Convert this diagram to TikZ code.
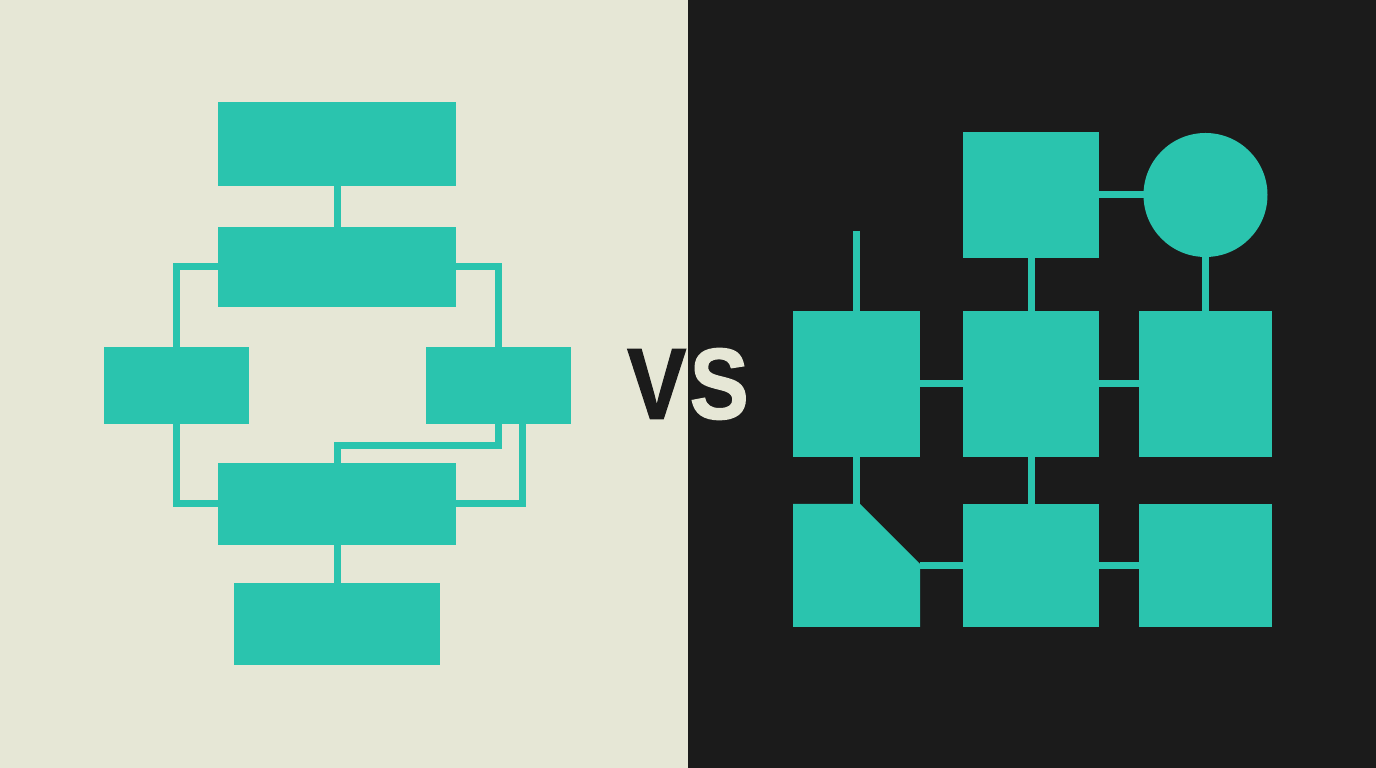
\documentclass[tikz,border=0pt]{standalone}
\usepackage{fontspec}
\newfontfamily\vsfont{Liberation Sans}[BoldFeatures={FakeBold=1.5}]
\definecolor{paper}{RGB}{230,231,214}
\definecolor{ink}{RGB}{27,27,27}
\definecolor{mint}{RGB}{42,196,174}
\tikzset{
  box/.style={fill=mint, inner sep=0pt, outer sep=0pt},
  wire/.style={draw=mint, line width=0.7mm},
}

\begin{document}
\begin{tikzpicture}

\fill[paper] (0,0) rectangle (6.88,7.68);
\fill[ink] (6.88,0) rectangle (13.76,7.68);

% left: flowchart
\node[box, minimum width=2.38cm, minimum height=0.84cm] (f1) at (3.37,6.24) {};
\node[box, minimum width=2.38cm, minimum height=0.80cm] (f2) at (3.37,5.01) {};
\node[box, minimum width=1.45cm, minimum height=0.77cm] (fl) at (1.765,3.825) {};
\node[box, minimum width=1.45cm, minimum height=0.77cm] (fr) at (4.985,3.825) {};
\node[box, minimum width=2.38cm, minimum height=0.82cm] (f4) at (3.37,2.64) {};
\node[box, minimum width=2.06cm, minimum height=0.82cm] (f5) at (3.37,1.44) {};

\draw[wire] (f1.south) -- (f2.north);
\draw[wire] (f2.west) -| (fl.north);
\draw[wire] (f2.east) -| (fr.north);
\draw[wire] (fl.south) |- (f4.west);
\draw[wire] (fr.south) -- ++(0,-0.22) -| (f4.north);
\draw[wire] ([xshift=0.24cm]fr.south) |- (f4.east);
\draw[wire] (f4.south) -- (f5.north);

% middle
\node[inner sep=0pt, xscale=0.88] (vs) at (6.88,3.84)
  {\vsfont\bfseries\fontsize{28.6}{30}\selectfont\textcolor{ink}{V}\kern0.04em\textcolor{paper}{S}};

% right: grid
\node[box, minimum width=1.36cm, minimum height=1.26cm] (g0) at (10.31,5.73) {};
\node[box, circle, minimum size=1.24cm] (gc) at (12.055,5.73) {};

\node[box, minimum width=1.27cm, minimum height=1.46cm] (g1) at (8.565,3.84) {};
\node[box, minimum width=1.36cm, minimum height=1.46cm] (g2) at (10.31,3.84) {};
\node[box, minimum width=1.33cm, minimum height=1.46cm] (g3) at (12.055,3.84) {};

\node[minimum width=1.27cm, minimum height=1.23cm, inner sep=0pt, outer sep=0pt] (g4) at (8.565,2.025) {};
\fill[mint] (g4.south west) -- (g4.north west) -- ([xshift=-0.6cm]g4.north east)
  -- ([yshift=-0.6cm]g4.north east) -- (g4.south east) -- cycle;
\node[box, minimum width=1.36cm, minimum height=1.23cm] (g5) at (10.31,2.025) {};
\node[box, minimum width=1.33cm, minimum height=1.23cm] (g6) at (12.055,2.025) {};

\coordinate (gs) at (8.565,5.37);

\draw[wire] (g0.east) -- (gc.west);
\draw[wire] (g0.south) -- (g2.north);
\draw[wire] (gc.south) -- (g3.north);
\draw[wire] (gs) -- (g1.north);
\draw[wire] (g1.east) -- (g2.west);
\draw[wire] (g2.east) -- (g3.west);
\draw[wire] (g1.south) -- (g4.north);
\draw[wire] (g2.south) -- (g5.north);
\draw[wire] (g4.east) -- (g5.west);
\draw[wire] (g5.east) -- (g6.west);

\end{tikzpicture}
\end{document}
